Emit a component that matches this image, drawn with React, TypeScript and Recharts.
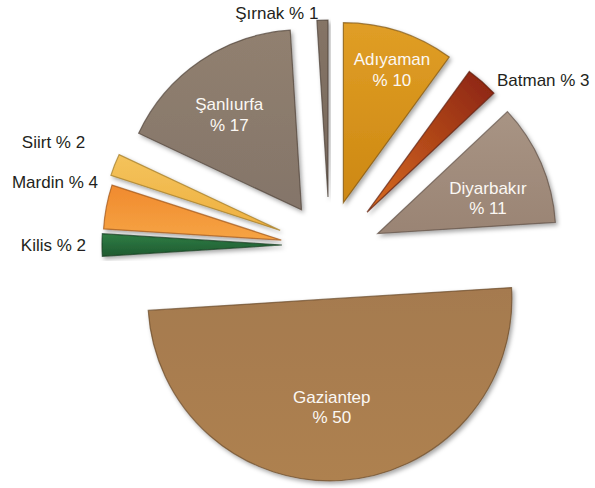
import { PieChart, Pie, Cell, Sector } from "recharts";

// share of each province (%)
const provinces = ["Adıyaman", "Batman", "Diyarbakır", "Gaziantep", "Kilis", "Mardin", "Siirt", "Şanlıurfa", "Şırnak"];
const shares = [10, 3, 11, 50, 2, 4, 2, 17, 1];

const data = provinces.map((name, i) => ({ name, value: shares[i] }));

// look of each slice: gradient, edge, and how far it is pulled out of the pie
type SliceLook = {
  from: string;
  to: string;
  edge: string;
  dir: number;
  dist: number;
  grow?: number;
  diag?: boolean;
};
const SLICE: Record<string, SliceLook> = {
  "Adıyaman": { from: "#e09e26", to: "#cd8812", edge: "#7e5210", dir: 70, dist: 45 },
  Batman: { from: "#8a2210", to: "#d86c22", edge: "#5a1a0a", dir: 40, dist: 51, grow: -6, diag: true },
  "Diyarbakır": { from: "#a89484", to: "#9a8474", edge: "#5e4f44", dir: 13, dist: 51, grow: -2 },
  Gaziantep: { from: "#a57a4f", to: "#ae8150", edge: "#6a4a2a", dir: -88, dist: 54, grow: 2 },
  Kilis: { from: "#2f7e45", to: "#1f5a30", edge: "#143a1e", dir: 180, dist: 46 },
  Mardin: { from: "#f08a2e", to: "#f6a444", edge: "#a0561a", dir: 174, dist: 47, grow: -2 },
  Siirt: { from: "#f4c35c", to: "#eeb040", edge: "#a07a28", dir: 163, dist: 50, grow: -2 },
  "Şanlıurfa": { from: "#91806f", to: "#84756a", edge: "#4e4238", dir: 127, dist: 44 },
  "Şırnak": { from: "#857466", to: "#76685c", edge: "#4a3e36", dir: 90, dist: 48, grow: -3 },
};

// label placement, polar from the slice tip
type LabelLook = { angle: number; r: number; inside?: boolean; anchor?: "start" | "end" };
const LABEL: Record<string, LabelLook> = {
  "Adıyaman": { angle: 70, r: 142, inside: true },
  Batman: { angle: 45.4, r: 185, anchor: "start" },
  "Diyarbakır": { angle: 18, r: 116, inside: true },
  Gaziantep: { angle: -89, r: 108, inside: true },
  Kilis: { angle: 180, r: 196, anchor: "end" },
  Mardin: { angle: 162.7, r: 192, anchor: "end" },
  Siirt: { angle: 155.7, r: 214, anchor: "end" },
  "Şanlıurfa": { angle: 127, r: 120, inside: true },
  "Şırnak": { angle: 93, r: 184, anchor: "end" },
};

const RAD = Math.PI / 180;
const FONT = "'Liberation Sans', Arial, sans-serif";

function offset(name: string) {
  const s = SLICE[name];
  return { dx: Math.cos(s.dir * RAD) * s.dist, dy: -Math.sin(s.dir * RAD) * s.dist };
}

const ExplodedSector = (props: any) => {
  const name = props.payload?.name ?? props.name;
  const s = SLICE[name];
  const { dx, dy } = offset(name);
  return (
    <Sector
      {...props}
      cx={props.cx + dx}
      cy={props.cy + dy}
      outerRadius={props.outerRadius + (s.grow ?? 0)}
      stroke={s.edge}
      strokeWidth={1.2}
      strokeOpacity={0.7}
      filter="url(#drop)"
    />
  );
};

const renderLabel = (props: any) => {
  const name = props.payload?.name ?? props.name;
  const l = LABEL[name];
  const { dx, dy } = offset(name);
  const x = props.cx + dx + Math.cos(l.angle * RAD) * l.r;
  const y = props.cy + dy - Math.sin(l.angle * RAD) * l.r;
  const pct = `% ${props.value}`;
  if (l.inside) {
    return (
      <text textAnchor="middle" dominantBaseline="central" fill="#fbf8f4" fontSize={17} fontFamily={FONT}>
        <tspan x={x} y={y - 10}>{name}</tspan>
        <tspan x={x} y={y + 10.5}>{pct}</tspan>
      </text>
    );
  }
  return (
    <text x={x} y={y} textAnchor={l.anchor} dominantBaseline="central" fill="#231f20" fontSize={17} fontFamily={FONT}>
      {`${name} ${pct}`}
    </text>
  );
};

export default function App() {
  return (
    <div style={{ width: 595, height: 488, background: "#fff" }}>
      <style>{"body{margin:0}"}</style>
      <PieChart width={595} height={488} margin={{ top: 0, right: 0, bottom: 0, left: 0 }}>
        <defs>
          <filter id="drop" x="-20%" y="-20%" width="140%" height="140%">
            <feDropShadow dx="2" dy="2.5" stdDeviation="2" floodColor="#000" floodOpacity="0.35" />
          </filter>
          {provinces.map((p, i) => {
            const s = SLICE[p];
            return (
              <linearGradient
                key={p}
                id={`grad-${i}`}
                x1={s.diag ? "1" : "0"}
                y1="0"
                x2="0"
                y2="1"
              >
                <stop offset="0%" stopColor={s.from} />
                <stop offset="100%" stopColor={s.to} />
              </linearGradient>
            );
          })}
        </defs>
        <Pie
          data={data}
          dataKey="value"
          nameKey="name"
          cx={328}
          cy={245}
          outerRadius={180}
          startAngle={90}
          endAngle={-270}
          stroke="none"
          isAnimationActive={false}
          shape={ExplodedSector}
          activeShape={ExplodedSector}
          inactiveShape={ExplodedSector}
          label={renderLabel}
          labelLine={false}
        >
          {provinces.map((p, i) => (
            <Cell key={p} fill={`url(#grad-${i})`} />
          ))}
        </Pie>
      </PieChart>
    </div>
  );
}
